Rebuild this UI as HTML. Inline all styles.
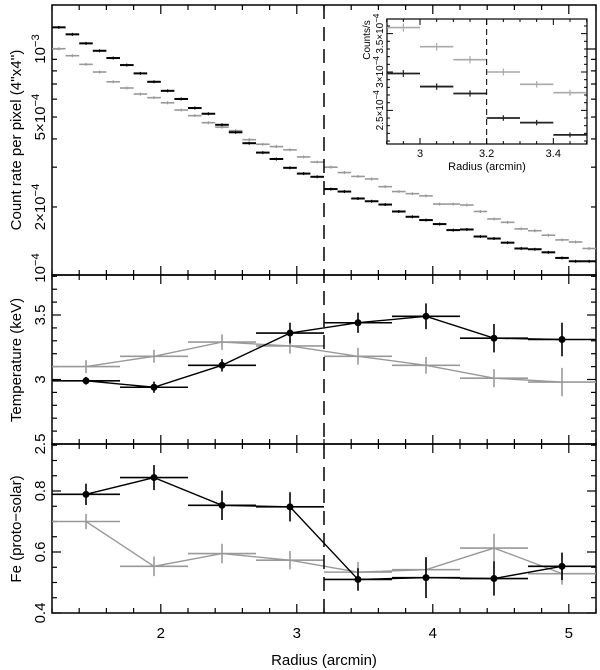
<!DOCTYPE html>
<html><head><meta charset="utf-8"><style>
html,body{margin:0;padding:0;background:#fff;}
svg{display:block;font-family:"Liberation Sans",sans-serif;}
</style></head><body>
<svg id="chart" width="600" height="670" viewBox="0 0 600 670" xmlns="http://www.w3.org/2000/svg">
<defs>
<clipPath id="insetClip"><rect x="387" y="19" width="200" height="125"/></clipPath>
</defs>
<g id="g"></g>
</svg>
<script>
// ---- data ----
const rBins = [1.25,1.35,1.45,1.55,1.65,1.75,1.85,1.95,2.05,2.15,2.25,2.35,2.45,2.55,2.65,2.75,2.85,2.95,3.05,3.15,3.25,3.35,3.45,3.55,3.65,3.75,3.85,3.95,4.05,4.15,4.25,4.35,4.45,4.55,4.65,4.75,4.85,4.95,5.05,5.15];
const countsBlack = [12.47,11.61,10.59,9.82,9.12,8.49,7.80,7.16,6.53,6.01,5.48,5.17,4.62,4.28,3.83,3.48,3.26,2.98,2.81,2.72,2.40,2.34,2.18,2.12,2.05,1.91,1.81,1.75,1.68,1.58,1.59,1.48,1.45,1.39,1.31,1.30,1.26,1.19,1.15,1.15];
const countsGray = [10.03,9.34,8.55,7.91,7.16,6.72,6.32,6.09,5.78,5.37,5.07,4.72,4.51,4.35,3.97,3.79,3.70,3.58,3.33,3.16,3.00,2.84,2.73,2.66,2.46,2.34,2.29,2.24,2.06,2.06,2.04,1.91,1.77,1.71,1.60,1.57,1.50,1.43,1.40,1.31];
const annR = [1.45,1.95,2.45,2.95,3.45,3.95,4.45,4.95];
const tempBlack = [2.99,2.94,3.11,3.36,3.44,3.49,3.32,3.31];
const tempBlackErr = [0.03,0.043,0.048,0.08,0.078,0.10,0.11,0.13];
const tempGray = [3.10,3.18,3.29,3.26,3.18,3.11,3.01,2.98];
const tempGrayErr = [0.05,0.05,0.06,0.06,0.065,0.065,0.07,0.11];
const feBlack = [0.789,0.844,0.753,0.748,0.51,0.516,0.513,0.553];
const feBlackErr = [0.035,0.041,0.048,0.048,0.037,0.067,0.056,0.045];
const feGray = [0.70,0.553,0.595,0.573,0.534,0.542,0.613,0.529];
const feGrayErr = [0.025,0.032,0.032,0.03,0.033,0.034,0.047,0.036];
const xTickLabels = ["2","3","4","5"];
const xTickValues = [2,3,4,5];

// ---- axes ----
const L=52,R=596,T=5,B=613,P1=275,P2=444;
const X = r => L+(r-1.2)*136;
const Ytop = v => P1-226*Math.log10(v);
const Ytemp = t => P2-(t-2.5)*129;
const Yfe = f => B-(f-0.4)*305;
const Xi = r => 420+(r-3)*333.3;
const Yi = v => 72-(v-3)*76.7;

const NS="http://www.w3.org/2000/svg";
const root=document.getElementById('g');
function el(tag,attrs,parent){const e=document.createElementNS(NS,tag);for(const k in attrs)e.setAttribute(k,attrs[k]);(parent||root).appendChild(e);return e;}
function line(x1,y1,x2,y2,stroke,w,parent){return el('line',{x1,y1,x2,y2,stroke,'stroke-width':w},parent);}

// panel frames
[[T,P1,'count-rate-panel'],[P1,P2,'temperature-panel'],[P2,B,'iron-abundance-panel']].forEach(p=>{
  const r=el('rect',{x:L,y:p[0],width:R-L,height:p[1]-p[0],fill:'none',stroke:'#000','stroke-width':1.5});
  
  
});

// x ticks on every panel (major at integer, minor each 0.2)
[[T,P1],[P1,P2],[P2,B]].forEach(p=>{
  for(let i=0;i<=20;i++){const r=1.2+i*0.2;const x=X(r);const maj=Math.abs(r-Math.round(r))<1e-6;const len=maj?9:5;
    line(x,p[0],x,p[0]+len,'#000',1.2);line(x,p[1],x,p[1]-len,'#000',1.2);}
});
// top panel log ticks
for(let d=0;d<=1;d++){for(let m=1;m<=9;m++){const v=m*Math.pow(10,d);const y=Ytop(v);if(y<T||y>P1)continue;const len=(m===1)?9:5;line(L,y,L+len,y,'#000',1.2);line(R,y,R-len,y,'#000',1.2);}}
// temp ticks
for(let i=0;i<=13;i++){const t=2.5+i*0.1;const y=Ytemp(t);if(y<P1)continue;const maj=i%5===0;const len=maj?9:5;line(L,y,L+len,y,'#000',1.2);line(R,y,R-len,y,'#000',1.2);}
// fe ticks
for(let i=0;i<=11;i++){const f=0.4+i*0.05;const y=Yfe(f);if(y<P2)continue;const maj=i%4===0;const len=maj?9:5;line(L,y,L+len,y,'#000',1.2);line(R,y,R-len,y,'#000',1.2);}

// x tick labels
xTickValues.forEach((v,i)=>{const t=el('text',{x:X(v),y:638,'font-size':15,'text-anchor':'middle',fill:'#000'});t.textContent=xTickLabels[i];
  
  });
const xt=el('text',{x:324,y:665,'font-size':15,'text-anchor':'middle',fill:'#000'});xt.textContent='Radius (arcmin)';



// rotated y labels helper
function rlabel(x,y,html,size,name){const t=el('text',{x:0,y:0,transform:`translate(${x},${y}) rotate(-90)`,'font-size':size,'text-anchor':'middle',fill:'#000'});t.innerHTML=html;
  
  return t;}
const sup=s=>`<tspan dy="-6" font-size="0.75em">${s}</tspan>`;
rlabel(45,Ytop(10),'10'+sup('−3'),15,'y-tick-label');
rlabel(45,Ytop(5),'5×10'+sup('−4'),15,'y-tick-label');
rlabel(45,Ytop(2),'2×10'+sup('−4'),15,'y-tick-label');
rlabel(45,268,'10'+sup('−4'),15,'y-tick-label');
rlabel(45,Ytemp(3.5),'3.5',15,'y-tick-label');
rlabel(45,Ytemp(3),'3',15,'y-tick-label');
rlabel(45,Ytemp(2.5),'2.5',15,'y-tick-label');
rlabel(45,Yfe(0.8),'0.8',15,'y-tick-label');
rlabel(45,Yfe(0.6),'0.6',15,'y-tick-label');
rlabel(45,Yfe(0.4),'0.4',15,'y-tick-label');
rlabel(21,140,'Count rate per pixel (4\'\'x4\'\')',15,'count-rate-axis-title');
rlabel(21,360,'Temperature (keV)',15,'temperature-axis-title');
rlabel(21,529,'Fe (proto−solar)',15,'fe-axis-title');

// top panel series
function countSeries(vals,color,w,Xf,Yf,parent,name){
  const g=el('g',{},parent);
  
  
  vals.forEach((v,i)=>{const r=rBins[i];const y=Yf(v);
    line(Xf(r-0.05),y,Xf(r+0.05),y,color,w,g);
    line(Xf(r),Yf(v*1.015),Xf(r),Yf(v*0.985),color,1.2,g);});
}
countSeries(countsGray,'#999',1.6,X,Ytop,root,'gray-count-profile');
countSeries(countsBlack,'#000',2,X,Ytop,root,'black-count-profile');

// annulus series
function annSeries(vals,errs,color,Yf,dots,name){
  const g=el('g',{},root);
  
  
  const pts=vals.map((v,i)=>X(annR[i])+','+Yf(v)).join(' ');
  el('polyline',{points:pts,fill:'none',stroke:color,'stroke-width':1.4},g);
  vals.forEach((v,i)=>{const r=annR[i];
    line(X(r-0.25),Yf(v),X(r+0.25),Yf(v),color,1.6,g);
    line(X(r),Yf(v+errs[i]),X(r),Yf(v-errs[i]),color,1.6,g);
    if(dots)el('circle',{cx:X(r),cy:Yf(v),r:3.5,fill:color},g);});
}
annSeries(tempGray,tempGrayErr,'#999',Ytemp,false,'gray-temperature-series');
annSeries(tempBlack,tempBlackErr,'#000',Ytemp,true,'black-temperature-series');
annSeries(feGray,feGrayErr,'#999',Yfe,false,'gray-fe-series');
annSeries(feBlack,feBlackErr,'#000',Yfe,true,'black-fe-series');

// dashed line
const dl=line(X(3.2),T,X(3.2),B,'#000',1.5);dl.setAttribute('stroke-dasharray','14,8');



// inset
const ig=el('g',{},root);


el('rect',{x:387,y:19,width:200,height:125,fill:'#fff',stroke:'#000','stroke-width':1.2},ig);
for(let i=0;i<=12;i++){const r=2.9+i*0.05;const x=Xi(r);const maj=Math.abs(r*5-Math.round(r*5))<1e-6&&[3,3.2,3.4].some(q=>Math.abs(q-r)<1e-6);const len=maj?6:3;line(x,19,x,19+len,'#000',1,ig);line(x,144,x,144-len,'#000',1,ig);}
for(let i=0;i<=16;i++){const v=2.1+i*0.1;const y=Yi(v);if(y<19||y>144)continue;const maj=[2.5,3,3.5].some(q=>Math.abs(q-v)<1e-6);const len=maj?6:3;line(387,y,387+len,y,'#000',1,ig);line(587,y,587-len,y,'#000',1,ig);}
[[3,'3'],[3.2,'3.2'],[3.4,'3.4']].forEach(p=>{const t=el('text',{x:Xi(p[0]),y:157,'font-size':11,'text-anchor':'middle',fill:'#000'},ig);t.textContent=p[1];
  
  });
const it=el('text',{x:487,y:170,'font-size':11,'text-anchor':'middle',fill:'#000'},ig);it.textContent='Radius (arcmin)';


[[2.5,'2.5×10'],[3,'3×10'],[3.5,'3.5×10']].forEach(p=>{const t=el('text',{x:0,y:0,transform:`translate(383,${Yi(p[0])}) rotate(-90)`,'font-size':10,'text-anchor':'middle',fill:'#000'},ig);t.innerHTML=p[1]+'<tspan dy="-4" font-size="8">−4</tspan>';
  
  });
const ct=el('text',{x:0,y:0,transform:'translate(370,40) rotate(-90)','font-size':10,'text-anchor':'middle',fill:'#000'},ig);ct.textContent='Counts/s';


const ic=el('g',{'clip-path':'url(#insetClip)'},ig);
countSeries(countsGray,'#aaa',1.6,Xi,Yi,ic,'inset-gray-count-profile');
countSeries(countsBlack,'#222',1.8,Xi,Yi,ic,'inset-black-count-profile');
const idl=line(Xi(3.2),19,Xi(3.2),144,'#000',1,ig);idl.setAttribute('stroke-dasharray','6,4');


</script>
</body></html>
